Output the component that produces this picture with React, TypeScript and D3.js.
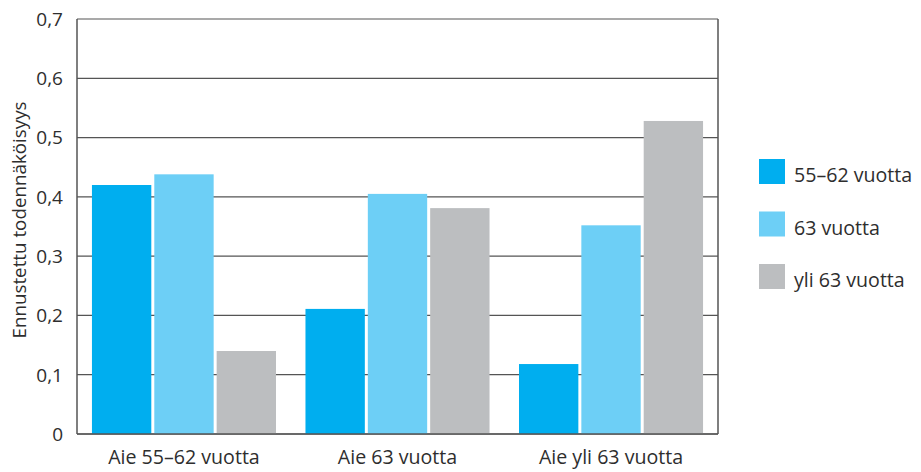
import React from 'react';
import * as d3 from 'd3';

const categories = ['Aie 55–62 vuotta', 'Aie 63 vuotta', 'Aie yli 63 vuotta'];
const seriesNames = ['55–62 vuotta', '63 vuotta', 'yli 63 vuotta'];
const colors = ['#00aeef', '#6dcff6', '#bcbec0'];
// values per category, in series order
const v5562 = [0.42, 0.211, 0.118];
const v63 = [0.438, 0.405, 0.352];
const vYli63 = [0.14, 0.381, 0.528];
const yTicks = [0, 0.1, 0.2, 0.3, 0.4, 0.5, 0.6, 0.7];

const W = 921;
const H = 472;
const left = 77;
const right = 718;
const top = 19;
const bottom = 434;
const font = "'Open Sans', sans-serif";

const App = () => {
  const series = [v5562, v63, vYli63];

  const x0 = d3.scaleBand().domain(categories).range([left, right]).paddingInner(0.138).paddingOuter(0.07);
  const x1 = d3.scaleBand().domain(seriesNames).range([0, x0.bandwidth()]).paddingInner(0.048);
  const y = d3.scaleLinear().domain([0, 0.7]).range([bottom, top]);
  const fmt = (d: number) => (d === 0 ? '0' : d3.format('.1f')(d).replace('.', ','));

  return (
    <svg width={W} height={H} style={{ position: 'absolute', left: 0, top: 0, fontFamily: font }}>
      <rect width={W} height={H} fill="#fff" />
      {yTicks.map((t) => (
        <g key={t}>
          <line x1={left} x2={right} y1={y(t)} y2={y(t)} stroke="#555" strokeWidth={1.2} />
          <text x={63} y={y(t)} dy="0.36em" textAnchor="end" fontSize={19} fill="#2e2e2e">
            {fmt(t)}
          </text>
        </g>
      ))}
      {categories.map((c, i) => (
        <g key={c} transform={`translate(${x0(c)},0)`}>
          {seriesNames.map((s, j) => (
            <rect
              key={s}
              x={x1(s)}
              y={y(series[j][i])}
              width={x1.bandwidth()}
              height={y(0) - y(series[j][i])}
              fill={colors[j]}
            />
          ))}
          <text x={x0.bandwidth() / 2} y={464} textAnchor="middle" fontSize={19.6} fill="#2e2e2e">
            {c}
          </text>
        </g>
      ))}
      <line x1={left} x2={left} y1={top} y2={bottom} stroke="#555" strokeWidth={1.5} />
      <line x1={right} x2={right} y1={top} y2={bottom} stroke="#555" strokeWidth={1.5} />
      <line x1={left} x2={right} y1={bottom} y2={bottom} stroke="#555" strokeWidth={1.5} />
      <text
        transform={`translate(26,220) rotate(-90)`}
        textAnchor="middle"
        fontSize={18.8}
        fill="#2e2e2e"
      >
        Ennustettu todennäköisyys
      </text>
      {seriesNames.map((s, j) => (
        <g key={s} transform={`translate(759,${159 + j * 52.5})`}>
          <rect width={26} height={25} fill={colors[j]} />
          <text x={35} y={16} dy="0.36em" fontSize={19.6} fill="#2e2e2e">
            {s}
          </text>
        </g>
      ))}
    </svg>
  );
};

export default App;
